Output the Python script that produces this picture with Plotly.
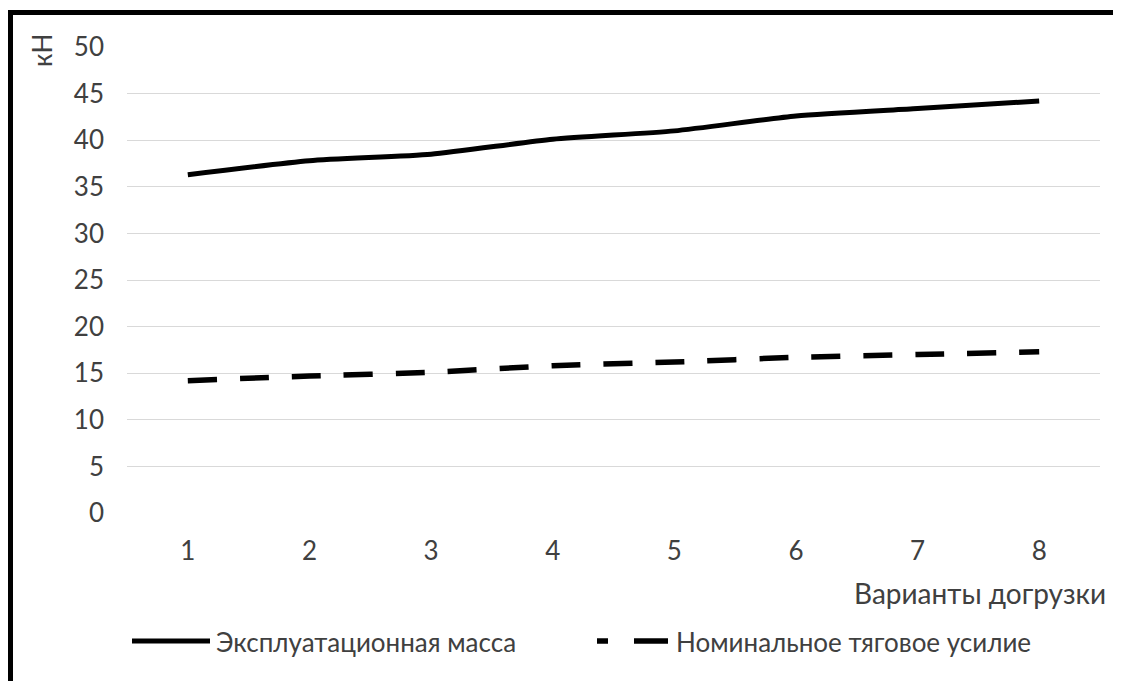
import plotly.graph_objects as go

# ---- data ----
variants = ["1", "2", "3", "4", "5", "6", "7", "8"]
mass = [36.3, 37.8, 38.5, 40.1, 41.0, 42.6, 43.4, 44.2]          # Эксплуатационная масса
traction = [14.2, 14.7, 15.1, 15.8, 16.2, 16.7, 17.0, 17.3]      # Номинальное тяговое усилие
series_names = ["Эксплуатационная масса", "Номинальное тяговое усилие"]
y_title = "кН"
x_title = "Варианты догрузки"

OFF = 8  # page body margin
W, H = 1121 - OFF, 681 - OFF
L, R, T, B = 127 - OFF, 21, 47 - OFF, 168
PW, PH = W - L - R, H - T - B
FONT = "Lato"
TXT = "#404040"
FS = 26


def px(x):  # x in screenshot pixels
    return (x - OFF - L) / PW


def py(y):  # y in screenshot pixels
    return (H - B - (y - OFF)) / PH


fig = go.Figure()
fig.add_trace(go.Scatter(x=variants, y=mass, mode="lines", name=series_names[0],
                         line=dict(color="black", width=5, shape="spline", smoothing=0.6)))
fig.add_trace(go.Scatter(x=variants, y=traction, mode="lines", name=series_names[1],
                         line=dict(color="black", width=5.5, dash="29px,23px", shape="spline", smoothing=0.6)))

shapes = [
    # frame (cropped border)
    dict(type="rect", xref="paper", yref="paper", x0=px(8), x1=px(13), y0=py(H + 20), y1=py(10),
         fillcolor="black", line_width=0, layer="above"),
    dict(type="rect", xref="paper", yref="paper", x0=px(8), x1=px(W + 20), y0=py(15), y1=py(10),
         fillcolor="black", line_width=0, layer="above"),
    # legend samples
    dict(type="line", xref="paper", yref="paper", x0=px(132), x1=px(210), y0=py(641), y1=py(641),
         line=dict(color="black", width=5)),
    dict(type="line", xref="paper", yref="paper", x0=px(597), x1=px(608), y0=py(641), y1=py(641),
         line=dict(color="black", width=5.5)),
    dict(type="line", xref="paper", yref="paper", x0=px(634), x1=px(668), y0=py(641), y1=py(641),
         line=dict(color="black", width=5.5)),
]

annotations = [
    dict(text=y_title, xref="paper", yref="paper", x=px(42), y=py(51), showarrow=False,
         textangle=-90, xanchor="center", yanchor="middle", font=dict(size=FS, color=TXT, family=FONT)),
    dict(text=x_title, xref="paper", yref="paper", x=px(1108), y=py(593), showarrow=False,
         xanchor="right", yanchor="middle", font=dict(size=28, color=TXT, family=FONT)),
    dict(text=series_names[0], xref="paper", yref="paper", x=px(214), y=py(642), showarrow=False,
         xanchor="left", yanchor="middle", font=dict(size=FS, color=TXT, family=FONT)),
    dict(text=series_names[1], xref="paper", yref="paper", x=px(674), y=py(642), showarrow=False,
         xanchor="left", yanchor="middle", font=dict(size=FS, color=TXT, family=FONT)),
]

fig.update_layout(
    width=W, height=H,
    margin=dict(l=L, r=R, t=T, b=B),
    paper_bgcolor="white", plot_bgcolor="white",
    showlegend=False,
    font=dict(family=FONT, size=FS, color=TXT),
    shapes=shapes,
    annotations=annotations,
    xaxis=dict(type="category", range=[-0.5, 7.5], showgrid=False, zeroline=False,
               showline=False, ticks="", ticklabelstandoff=20,
               tickfont=dict(size=FS, color=TXT, family=FONT)),
    yaxis=dict(range=[0, 50], dtick=5, tick0=0, showgrid=True, gridcolor="#d9d9d9", gridwidth=1,
               zeroline=False, showline=False, ticks="", ticklabelstandoff=22,
               tickfont=dict(size=FS, color=TXT, family=FONT)),
)

fig.write_html("out.html")
